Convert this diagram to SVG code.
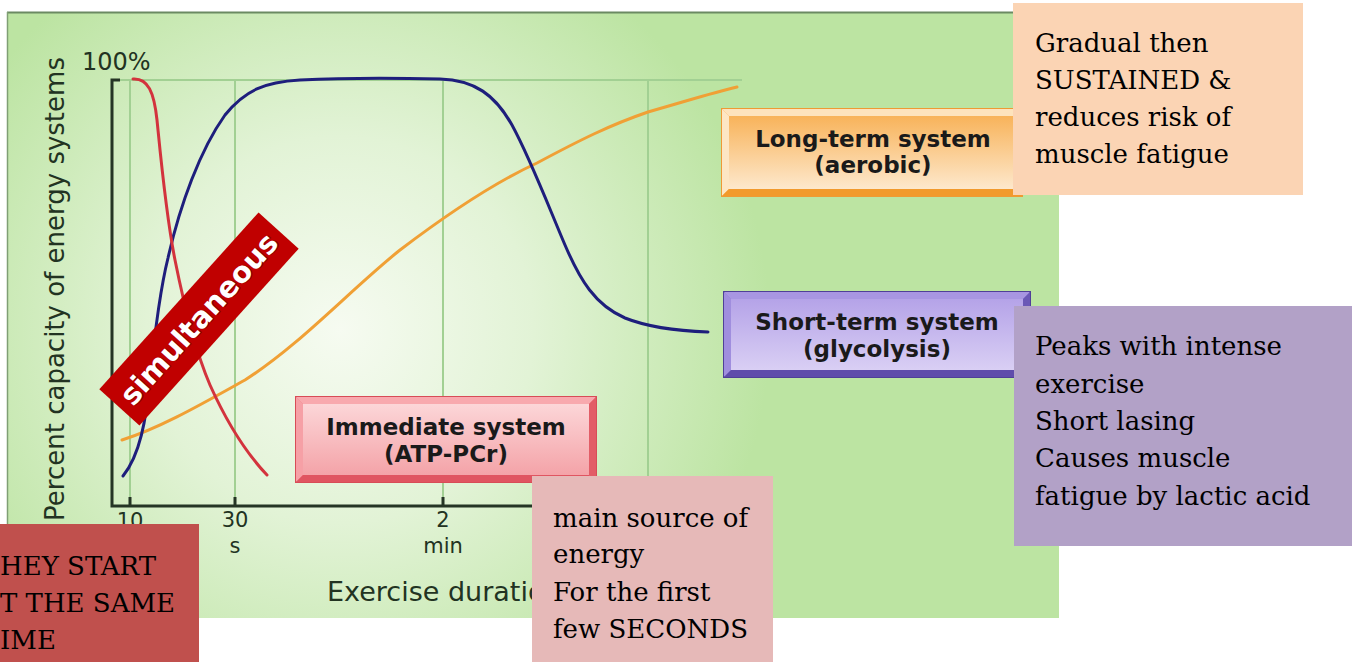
<svg xmlns="http://www.w3.org/2000/svg" width="1355" height="662" viewBox="0 0 1355 662">
<defs>
<radialGradient id="bg" cx="340" cy="330" r="430" gradientUnits="userSpaceOnUse">
<stop offset="0" stop-color="#f6fbf1"/>
<stop offset="0.45" stop-color="#e2f3d6"/>
<stop offset="1" stop-color="#bce4a2"/>
</radialGradient>
<linearGradient id="gRed" x1="0" y1="0" x2="0" y2="1">
<stop offset="0" stop-color="#fcd6d8"/>
<stop offset="1" stop-color="#f4a3a8"/>
</linearGradient>
<linearGradient id="gOrg" x1="0" y1="0" x2="0" y2="1">
<stop offset="0" stop-color="#f8b35a"/>
<stop offset="1" stop-color="#fde8cc"/>
</linearGradient>
<linearGradient id="gPur" x1="0" y1="0" x2="0" y2="1">
<stop offset="0" stop-color="#b5a3e8"/>
<stop offset="1" stop-color="#d9cff4"/>
</linearGradient>
</defs>
<style>
.ax{font-family:"DejaVu Sans","Liberation Sans",sans-serif;fill:#223322}
.bx{font-family:"DejaVu Sans","Liberation Sans",sans-serif;font-weight:bold;font-size:23px;fill:#1a1a1a;text-anchor:middle}
.nt{font-family:"DejaVu Serif","Liberation Serif",serif;font-size:26px;fill:#000}
.grid{stroke:#a2d093;stroke-width:2;fill:none}
.axis{stroke:#253525;stroke-width:3;fill:none}
.curve{fill:none;stroke-width:3;stroke-linecap:round}
</style>

<g id="chart-background">
<rect x="7" y="12" width="1052" height="606" fill="url(#bg)"/>
<line x1="7" y1="12.5" x2="1059" y2="12.5" stroke="#6b8a62" stroke-width="2"/>
<line x1="7.5" y1="12" x2="7.5" y2="618" stroke="#7f9f74" stroke-width="1.5"/>
</g>

<g id="grid">
<line class="grid" x1="112" y1="80" x2="742" y2="80"/>
<line class="grid" x1="130" y1="80" x2="130" y2="506"/>
<line class="grid" x1="235" y1="80" x2="235" y2="506"/>
<line class="grid" x1="443" y1="80" x2="443" y2="506"/>
<line class="grid" x1="648" y1="80" x2="648" y2="506"/>
</g>

<g id="axes">
<path class="axis" d="M120,80 H112 V506 H742"/>
<path class="axis" d="M130,506 V497 M235,506 V497 M443,506 V497 M648,506 V497"/>
<text class="ax" x="82" y="70" font-size="24">100%</text>
<text class="ax" transform="translate(64,289) rotate(-90)" font-size="26" text-anchor="middle">Percent capacity of energy systems</text>
<text class="ax" x="130" y="528" font-size="21" text-anchor="middle">10</text>
<text class="ax" x="235" y="527" font-size="21" text-anchor="middle">30</text>
<text class="ax" x="235" y="553" font-size="21" text-anchor="middle">s</text>
<text class="ax" x="443" y="527" font-size="21" text-anchor="middle">2</text>
<text class="ax" x="443" y="553" font-size="21" text-anchor="middle">min</text>
<text class="ax" x="327" y="601" font-size="27">Exercise duration</text>
</g>

<g id="connectors">
<path class="curve" stroke="#f0a035" d="M122,440 C160,428 200,405 245,380 C300,345 350,290 400,250 C450,212 500,180 537,163 C580,140 610,125 648,112 C690,100 715,92 737,87"/>
<path class="curve" stroke="#1e1e7c" d="M123,476 C140,455 146,420 150,380 C155,330 160,290 168,258 C180,205 200,150 225,115 C245,90 265,82 300,80 C340,78 400,78 440,79 C475,80 495,95 512,125 C530,158 548,205 565,245 C580,280 595,305 625,318 C650,328 680,331 708,332"/>
<path class="curve" stroke="#d3333d" d="M133,79 C148,78 154,92 157,120 C161,160 166,215 175,260 C183,300 195,350 210,385 C228,425 248,455 267,475"/>
</g>

<g id="node-immediate">
<rect x="296" y="397" width="300" height="85" fill="#ec7a82" stroke="#d84c57" stroke-width="2"/>
<polygon points="296,397 596,397 589,404 303,404" fill="#f8a9ae"/>
<polygon points="296,397 303,404 303,475 296,482" fill="#f6a0a6"/>
<polygon points="296,482 303,475 589,475 596,482" fill="#e05561"/>
<polygon points="596,397 589,404 589,475 596,482" fill="#e25d67"/>
<rect x="303" y="404" width="286" height="71" fill="url(#gRed)"/>
<text class="bx" x="446" y="435">Immediate system</text>
<text class="bx" x="446" y="462">(ATP-PCr)</text>
</g>

<g id="node-longterm">
<rect x="722" y="109" width="300" height="87" fill="#f6a445" stroke="#ee9a35" stroke-width="2"/>
<polygon points="722,109 1022,109 1015,116 729,116" fill="#fde3bd"/>
<polygon points="722,109 729,116 729,189 722,196" fill="#fde6c4"/>
<polygon points="722,196 729,189 1015,189 1022,196" fill="#f29a2c"/>
<rect x="729" y="116" width="286" height="73" fill="url(#gOrg)"/>
<text class="bx" x="873" y="147">Long-term system</text>
<text class="bx" x="873" y="173">(aerobic)</text>
</g>

<g id="node-shortterm">
<rect x="724" y="292" width="306" height="85" fill="#8f7bd4" stroke="#4f3f98" stroke-width="2"/>
<polygon points="724,292 1030,292 1023,299 731,299" fill="#a896e2"/>
<polygon points="724,292 731,299 731,370 724,377" fill="#a08ede"/>
<polygon points="724,377 731,370 1023,370 1030,377" fill="#5f4cab"/>
<polygon points="1030,292 1023,299 1023,370 1030,377" fill="#6b58b6"/>
<rect x="731" y="299" width="292" height="71" fill="url(#gPur)"/>
<text class="bx" x="877" y="330">Short-term system</text>
<text class="bx" x="877" y="357">(glycolysis)</text>
</g>

<g id="node-simultaneous" transform="translate(199,319) rotate(-48)">
<rect x="-119" y="-27" width="238" height="54" fill="#c00000"/>
<text x="1" y="11" font-family="DejaVu Sans, Liberation Sans, sans-serif" font-weight="bold" font-size="29" fill="#5a0000" text-anchor="middle" opacity="0.6">simultaneous</text>
<text x="0" y="10" font-family="DejaVu Sans, Liberation Sans, sans-serif" font-weight="bold" font-size="29" fill="#ffffff" text-anchor="middle">simultaneous</text>
</g>

<g id="note-aerobic">
<rect x="1013" y="3" width="290" height="192" fill="#fbd4b4"/>
<text class="nt" x="1035" y="52">Gradual then</text>
<text class="nt" x="1035" y="89">SUSTAINED &amp;</text>
<text class="nt" x="1035" y="126">reduces risk of</text>
<text class="nt" x="1035" y="163">muscle fatigue</text>
</g>

<g id="note-glycolysis">
<rect x="1014" y="306" width="338" height="240" fill="#b2a1c7"/>
<text class="nt" x="1035" y="355">Peaks with intense</text>
<text class="nt" x="1035" y="393">exercise</text>
<text class="nt" x="1035" y="430">Short lasing</text>
<text class="nt" x="1035" y="467">Causes muscle</text>
<text class="nt" x="1035" y="505">fatigue by lactic acid</text>
</g>

<g id="note-immediate">
<rect x="532" y="476" width="241" height="186" fill="#e6b9b8"/>
<text class="nt" x="553" y="527">main source of</text>
<text class="nt" x="553" y="563">energy</text>
<text class="nt" x="553" y="601">For the first</text>
<text class="nt" x="553" y="638">few SECONDS</text>
</g>

<g id="note-start">
<rect x="0" y="524" width="199" height="138" fill="#c0504d"/>
<text class="nt" x="0" y="575">HEY START</text>
<text class="nt" x="0" y="612">T THE SAME</text>
<text class="nt" x="0" y="649">IME</text>
</g>
</svg>
